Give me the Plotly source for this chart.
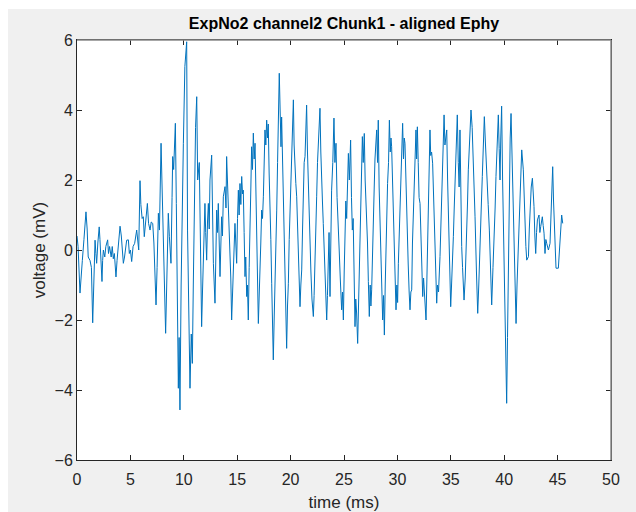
import plotly.graph_objects as go

# Aligned electrophysiology trace, ExpNo2 / channel2 / Chunk1
time_ms = [
    0.00, 0.10, 0.28, 0.40, 0.50, 0.65, 0.84, 0.95, 1.05, 1.22, 1.35, 1.47, 1.58, 1.69, 1.77, 1.84,
    1.95, 2.08, 2.15, 2.25, 2.34, 2.40, 2.47, 2.60, 2.70, 2.87, 2.95, 3.05, 3.20, 3.30, 3.40, 3.50,
    3.65, 3.75, 3.85, 4.03, 4.15, 4.25, 4.34, 4.45, 4.55, 4.65, 4.81, 4.90, 5.00, 5.12, 5.25, 5.40,
    5.59, 5.70, 5.78, 5.90, 5.98, 6.10, 6.21, 6.30, 6.45, 6.59, 6.70, 6.84, 6.95, 7.09, 7.20, 7.30,
    7.40, 7.50, 7.62, 7.72, 7.80, 7.87, 7.95, 8.05, 8.15, 8.30, 8.40, 8.48, 8.55, 8.65, 8.80, 8.90,
    8.96, 9.05, 9.15, 9.21, 9.30, 9.40, 9.49, 9.56, 9.64, 9.75, 9.85, 9.96, 10.10, 10.27, 10.35, 10.45,
    10.58, 10.70, 10.80, 10.89, 11.00, 11.10, 11.21, 11.30, 11.45, 11.60, 11.67, 11.75, 11.83, 11.98, 12.05, 12.14,
    12.22, 12.30, 12.38, 12.45, 12.61, 12.70, 12.77, 12.92, 13.00, 13.08, 13.16, 13.23, 13.39, 13.47, 13.54, 13.62,
    13.70, 13.86, 13.95, 14.01, 14.10, 14.17, 14.25, 14.33, 14.40, 14.48, 14.56, 14.64, 14.72, 14.79, 14.87, 14.95,
    15.03, 15.11, 15.18, 15.26, 15.34, 15.42, 15.50, 15.57, 15.65, 15.73, 15.80, 15.89, 15.96, 16.04, 16.12, 16.20,
    16.28, 16.35, 16.43, 16.51, 16.59, 16.67, 16.75, 16.82, 16.90, 16.98, 17.05, 17.13, 17.21, 17.29, 17.37, 17.45,
    17.52, 17.60, 17.68, 17.76, 17.84, 17.91, 17.99, 18.07, 18.15, 18.23, 18.30, 18.38, 18.46, 18.54, 18.62, 18.70,
    18.78, 18.85, 18.94, 19.02, 19.10, 19.16, 19.24, 19.32, 19.40, 19.48, 19.55, 19.63, 19.71, 19.79, 19.87, 19.94,
    20.02, 20.10, 20.18, 20.26, 20.33, 20.41, 20.49, 20.57, 20.65, 20.72, 20.80, 20.88, 20.96, 21.04, 21.12, 21.19,
    21.27, 21.35, 21.42, 21.50, 21.58, 21.66, 21.74, 21.82, 21.90, 22.00, 22.13, 22.20, 22.28, 22.36, 22.44, 22.52,
    22.60, 22.68, 22.75, 22.83, 22.91, 22.98, 23.06, 23.14, 23.25, 23.38, 23.45, 23.53, 23.60, 23.69, 23.84, 23.95,
    24.06, 24.15, 24.25, 24.35, 24.47, 24.55, 24.65, 24.78, 24.86, 24.94, 25.02, 25.09, 25.17, 25.25, 25.33, 25.41,
    25.50, 25.62, 25.70, 25.78, 25.86, 25.95, 26.03, 26.10, 26.18, 26.28, 26.36, 26.43, 26.50, 26.58, 26.65, 26.72,
    26.80, 26.90, 26.98, 27.05, 27.12, 27.20, 27.28, 27.37, 27.45, 27.52, 27.59, 27.67, 27.75, 27.83, 27.90, 27.98,
    28.06, 28.14, 28.21, 28.29, 28.37, 28.45, 28.53, 28.62, 28.70, 28.78, 28.86, 28.93, 29.00, 29.08, 29.17, 29.25,
    29.33, 29.40, 29.46, 29.54, 29.62, 29.70, 29.78, 29.87, 29.95, 30.02, 30.09, 30.17, 30.24, 30.32, 30.40, 30.49,
    30.57, 30.64, 30.71, 30.80, 30.86, 30.93, 31.01, 31.10, 31.18, 31.26, 31.34, 31.41, 31.49, 31.57, 31.65, 31.74,
    31.80, 31.87, 31.95, 32.03, 32.12, 32.20, 32.28, 32.37, 32.45, 32.55, 32.68, 32.75, 32.82, 32.90, 32.98, 33.05,
    33.12, 33.20, 33.30, 33.38, 33.45, 33.52, 33.60, 33.68, 33.75, 33.85, 33.99, 34.07, 34.15, 34.22, 34.30, 34.37,
    34.45, 34.53, 34.62, 34.70, 34.77, 34.85, 34.92, 34.99, 35.07, 35.15, 35.24, 35.32, 35.40, 35.48, 35.55, 35.61,
    35.70, 35.78, 35.86, 35.94, 36.02, 36.10, 36.24, 36.35, 36.49, 36.57, 36.64, 36.75, 36.89, 37.00, 37.11, 37.20,
    37.27, 37.40, 37.52, 37.62, 37.73, 37.85, 37.95, 38.05, 38.14, 38.25, 38.36, 38.50, 38.61, 38.72, 38.83, 38.95,
    39.05, 39.15, 39.23, 39.35, 39.45, 39.53, 39.61, 39.68, 39.76, 39.85, 39.92, 40.00, 40.08, 40.17, 40.23, 40.31,
    40.39, 40.48, 40.56, 40.64, 40.72, 40.79, 40.87, 40.95, 41.03, 41.11, 41.20, 41.33, 41.40, 41.48, 41.56, 41.64,
    41.79, 41.87, 41.95, 42.03, 42.11, 42.27, 42.35, 42.42, 42.53, 42.64, 42.79, 42.87, 42.95, 43.03, 43.11, 43.26,
    43.34, 43.42, 43.57, 43.65, 43.73, 43.82, 43.90, 43.98, 44.14, 44.29, 44.40, 44.54, 44.62, 44.70, 44.85, 45.07,
    45.23, 45.38, 45.48,
]

voltage_mV = [
    0.40, 0.10, -1.23, -0.60, -0.30, 0.30, 1.09, 0.60, -0.20, -0.30, -0.50, -2.08, -0.80, 0.28, -0.10, -0.38,
    0.20, 0.66, 0.30, -0.40, -0.90, -0.30, 0.00, -0.20, 0.10, 0.29, -0.10, 0.10, -0.20, 0.10, -0.25, -0.10,
    -0.77, -0.30, 0.00, 0.68, 0.40, 0.00, -0.38, -0.20, 0.00, 0.28, 0.29, -0.10, 0.00, -0.33, 0.10, 0.19,
    0.57, 0.10, 0.00, 1.98, 1.30, 0.90, 0.95, 0.38, 0.90, 1.33, 0.76, 0.57, 0.80, 0.76, 0.20, -0.60,
    -1.57, -0.50, 1.05, 0.57, 1.50, 3.05, 2.00, 0.50, -0.95, -2.38, -1.00, 0.19, 1.05, 0.38, -0.38, 1.50,
    2.67, 2.30, 3.00, 3.62, 1.33, -1.00, -3.95, -2.50, -4.57, -1.00, 1.50, 3.05, 5.24, 5.95, 0.57, -2.00,
    -3.95, -2.40, -3.24, -1.00, 1.52, 3.50, 4.38, 2.00, 2.50, -1.33, -2.19, -1.20, -0.38, 1.33, 0.50, -0.29,
    0.80, 1.33, 0.60, 2.00, 2.71, 0.80, -0.38, -1.52, -0.30, 1.14, 0.50, 1.33, -0.76, 0.20, 0.95, 0.40,
    1.52, 1.81, 1.20, 2.67, 1.80, 1.52, 0.80, 0.19, -0.80, -2.00, -1.20, -0.48, 0.30, 0.76, 0.20, -0.38,
    0.90, 1.71, 1.00, 1.90, 1.30, 2.10, 1.60, 1.71, 0.50, -0.76, -0.20, -1.33, -1.00, -2.00, -0.50, 0.38,
    1.80, 2.95, 2.30, 3.34, 2.60, 3.05, 1.50, 0.57, -0.80, -2.10, -1.40, -0.76, 0.20, 1.14, 0.90, 1.52,
    2.60, 3.43, 3.00, 3.71, 3.20, 3.60, 2.20, 1.52, 0.30, -0.95, -2.00, -3.14, -2.00, -1.14, 0.20, 1.14,
    2.50, 3.43, 5.05, 4.00, 2.95, 3.80, 2.50, 1.52, 0.20, -0.57, -1.80, -2.81, -1.60, -0.95, 0.30, 1.05,
    1.80, 2.29, 3.50, 4.29, 3.00, 2.29, 1.90, 1.52, 0.50, -0.38, -1.20, -1.62, -1.00, -0.57, 0.60, 2.00,
    2.50, 2.67, 3.60, 4.14, 2.80, 1.71, 0.80, 0.10, -0.60, -1.40, -1.90, -1.30, -0.57, 0.80, 1.52, 2.50,
    3.14, 3.60, 4.05, 2.80, 1.52, 1.40, 0.76, 0.00, -1.20, -2.00, -1.30, -0.48, 0.50, -1.33, 1.71, 2.50,
    3.77, 2.50, 3.05, 1.50, 0.76, 0.00, -0.80, -1.71, -1.20, -2.00, -0.60, 0.57, 1.40, 0.90, 2.20, 2.76,
    2.00, 3.14, 1.50, 0.57, 0.90, -0.80, -2.19, -1.40, -1.80, -2.67, -1.50, -0.40, 0.10, 1.50, 2.30, 3.24,
    2.50, 3.33, 2.00, 1.50, 1.05, 0.20, -0.90, -1.90, -1.00, -1.60, -1.14, 0.20, 1.05, 1.80, 2.60, 3.00,
    3.43, 2.50, 3.71, 1.80, 0.76, 0.20, -0.90, -2.00, -1.30, -2.43, -1.00, 0.30, 0.95, 1.90, 2.50, 3.71,
    2.80, 3.20, 2.95, 2.00, 1.52, 0.50, -0.60, -1.71, -1.00, -1.50, -0.38, 0.50, 1.14, 2.00, 2.80, 3.62,
    2.60, 3.20, 3.05, 1.80, 1.00, 0.57, -0.40, -1.20, -1.71, -1.20, -1.14, 0.20, 1.05, 2.00, 2.80, 3.43,
    2.60, 3.52, 2.50, 1.50, 1.33, 0.40, -0.50, -1.33, -0.80, -1.50, -2.00, -1.00, 0.30, 1.33, 2.50, 3.43,
    2.70, 2.80, 2.48, 1.50, 1.20, 0.57, -0.50, -1.52, -1.00, -1.20, -0.19, 0.70, 1.81, 2.50, 3.20, 3.86,
    3.00, 3.30, 3.43, 2.00, 1.05, 0.20, -0.80, -1.62, -1.00, -0.50, 0.38, 1.20, 1.81, 2.80, 3.30, 3.86,
    2.50, 1.80, 3.43, 0.50, 0.10, -0.50, -1.43, -0.80, 0.38, 1.40, 2.29, 3.20, 4.00, 3.50, 2.67, 1.80,
    0.95, -0.60, -1.81, -1.00, -0.19, 1.20, 2.10, 3.00, 3.81, 3.00, 2.00, 1.30, 0.57, -0.60, -1.57, -0.50,
    0.19, 1.20, 2.10, 3.00, 3.86, 2.90, 2.00, 3.20, 4.11, 2.00, 0.67, -0.40, -1.24, -3.43, -4.38, -2.50,
    -0.57, 2.48, 3.20, 3.90, 3.00, 1.90, 0.70, -0.38, -1.20, -2.10, -1.00, 0.10, 0.90, 1.52, 2.20, 2.86,
    2.29, 1.40, 0.57, 0.10, -0.29, -0.19, 0.60, 1.33, 1.80, 2.05, 1.24, 0.40, -0.10, 0.50, 0.86, 1.00,
    0.50, 0.67, 0.95, 0.70, 0.48, -0.10, 0.30, 0.19, 0.00, 0.19, 1.20, 2.38, 1.40, 0.57, -0.52, -0.52,
    0.29, 1.00, 0.76,
]

x_ticks = [0, 5, 10, 15, 20, 25, 30, 35, 40, 45, 50]
y_ticks = [-6, -4, -2, 0, 2, 4, 6]

TEXT = "#262626"
FONT = "Liberation Sans, Arial, sans-serif"

fig = go.Figure()
fig.add_trace(go.Scatter(
    x=time_ms, y=voltage_mV, mode="lines",
    line=dict(color="#0072BD", width=1),
    showlegend=False, hoverinfo="skip",
))

axis_common = dict(
    showgrid=False, zeroline=False, automargin=False,
    showline=True, linecolor=TEXT, linewidth=1, mirror="allticks",
    ticks="inside", ticklen=5, tickcolor=TEXT, tickwidth=1,
    tickfont=dict(family=FONT, size=16, color=TEXT),
)

fig.update_xaxes(
    range=[0, 50], tickmode="array", tickvals=x_ticks,
    ticklabelstandoff=5,
    title=dict(text="time (ms)", font=dict(family=FONT, size=17, color=TEXT), standoff=9),
    **axis_common,
)
fig.update_yaxes(
    range=[-6, 6], tickmode="array", tickvals=y_ticks,
    title=dict(text="voltage (mV)", font=dict(family=FONT, size=17, color=TEXT), standoff=4),
    **axis_common,
)

# light-gray figure panel with a thin white strip along the top and left
fig.add_shape(type="rect", xref="paper", yref="paper", x0=-0.2, x1=1.1,
              y0=1.0738, y1=1.2, fillcolor="white", line_width=0, layer="above")
fig.add_shape(type="rect", xref="paper", yref="paper", x0=-0.2, x1=-0.1292,
              y0=-0.2, y1=1.2, fillcolor="white", line_width=0, layer="above")
# lighter box edges on the top and right sides
fig.add_shape(type="line", xref="paper", yref="paper", x0=0, x1=1, y0=1, y1=1,
              line=dict(color="#8a8a8a", width=1.5), layer="above")
fig.add_shape(type="line", xref="paper", yref="paper", x0=1, x1=1, y0=0, y1=1,
              line=dict(color="#8a8a8a", width=1.5), layer="above")

fig.update_layout(
    width=636, height=512,
    margin=dict(l=77, r=25, t=40, b=52),
    paper_bgcolor="#f0f0f0", plot_bgcolor="white",
    title=dict(text="<b>ExpNo2 channel2 Chunk1 - aligned Ephy</b>",
               font=dict(family=FONT, size=16, color="#000000"),
               x=0.5, xref="paper", xanchor="center", y=0.955, yanchor="middle"),
)

fig.write_html("out.html")
